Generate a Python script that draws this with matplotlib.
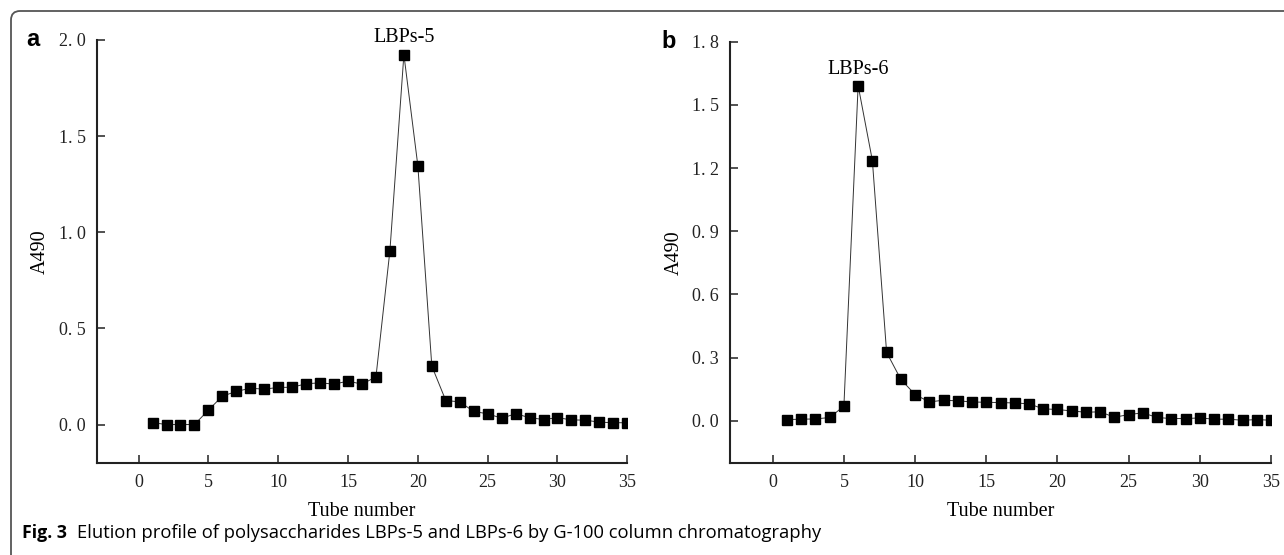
import numpy as np
import matplotlib
matplotlib.use("Agg")
from matplotlib import pyplot as plt
from matplotlib.patches import FancyBboxPatch
from matplotlib.transforms import IdentityTransform

# tube numbers and A490 readings
tubes = np.arange(1, 36)
a490_lbps5 = [0.01, 0.00, 0.00, 0.00, 0.075, 0.148, 0.172, 0.189, 0.184, 0.193,
              0.194, 0.212, 0.217, 0.210, 0.226, 0.210, 0.248, 0.905, 1.924, 1.346,
              0.304, 0.125, 0.118, 0.068, 0.056, 0.033, 0.056, 0.036, 0.026, 0.036,
              0.024, 0.023, 0.012, 0.010, 0.009]
a490_lbps6 = [0.006, 0.008, 0.009, 0.016, 0.070, 1.592, 1.236, 0.325, 0.197, 0.125,
              0.090, 0.098, 0.095, 0.090, 0.088, 0.087, 0.085, 0.081, 0.057, 0.054,
              0.047, 0.041, 0.043, 0.017, 0.030, 0.038, 0.016, 0.011, 0.011, 0.014,
              0.008, 0.008, 0.003, 0.006, 0.003]

xticks = [0, 5, 10, 15, 20, 25, 30, 35]
yticks_a = [0.0, 0.5, 1.0, 1.5, 2.0]
yticks_b = [0.0, 0.3, 0.6, 0.9, 1.2, 1.5, 1.8]

serif = "Liberation Serif"

fig = plt.figure(figsize=(12.84, 5.55), dpi=100)

# rounded frame round the whole figure (display pixels)
frame = FancyBboxPatch((11, -30), 1400, 574, boxstyle="round,pad=0,rounding_size=9",
                       transform=IdentityTransform(), fill=False,
                       edgecolor="#555555", linewidth=1.3)
fig.patches.append(frame)

ax1 = fig.add_axes([96.7/1284, 1-463/555, (627.3-96.7)/1284, (463-40)/555])
ax2 = fig.add_axes([730/1284, 1-463/555, (1271-730)/1284, (463-41.7)/555])


def style(ax, ys, yticks, ylim):
    ax.plot(tubes, ys, color="#333333", linewidth=0.7, marker="s",
            markersize=6.5, markerfacecolor="black", markeredgecolor="black")
    ax.set_xlim(-3, 35)
    ax.set_ylim(*ylim)
    ax.set_xticks(xticks)
    ax.set_yticks(yticks)
    # the original font draws a wide gap after the point
    ax.set_yticklabels([("%.1f" % v).replace(".", ". ") for v in yticks])
    for s in ["top", "right"]:
        ax.spines[s].set_visible(False)
    for s in ["left", "bottom"]:
        ax.spines[s].set_linewidth(1.5)
        ax.spines[s].set_color("#222222")
    ax.tick_params(direction="in", length=5.5, width=1.1, color="#222222",
                   labelsize=13, labelfontfamily=serif, labelcolor="#222222")
    ax.tick_params(axis="y", pad=8)
    ax.tick_params(axis="x", pad=8)
    ax.set_xlabel("Tube number", fontfamily=serif, fontsize=14.5, labelpad=8)
    ax.set_ylabel("A490", fontfamily=serif, fontsize=14.5, labelpad=6)


style(ax1, a490_lbps5, yticks_a, (-0.2, 2.0))
style(ax2, a490_lbps6, yticks_b, (-0.2, 1.8))

ax1.text(19, 1.963, "LBPs-5", ha="center", va="bottom", fontfamily=serif, fontsize=14.5)
ax2.text(6, 1.625, "LBPs-6", ha="center", va="bottom", fontfamily=serif, fontsize=14.5)

fig.text(33/1284, 1-40/555, "a", ha="center", va="center", fontweight="bold",
         fontfamily="Liberation Sans", fontsize=17)
fig.text(669/1284, 1-42/555, "b", ha="center", va="center", fontweight="bold",
         fontfamily="Liberation Sans", fontsize=17)

fig.text(22/1284, 1-533/555, "Fig. 3", ha="left", va="center", fontweight="bold",
         fontfamily="Open Sans", fontsize=12.8)
fig.text(77/1284, 1-533/555,
         "Elution profile of polysaccharides LBPs-5 and LBPs-6 by G-100 column chromatography",
         ha="left", va="center", fontfamily="Open Sans", fontsize=13.2)

fig.savefig("out.png", dpi=100)
